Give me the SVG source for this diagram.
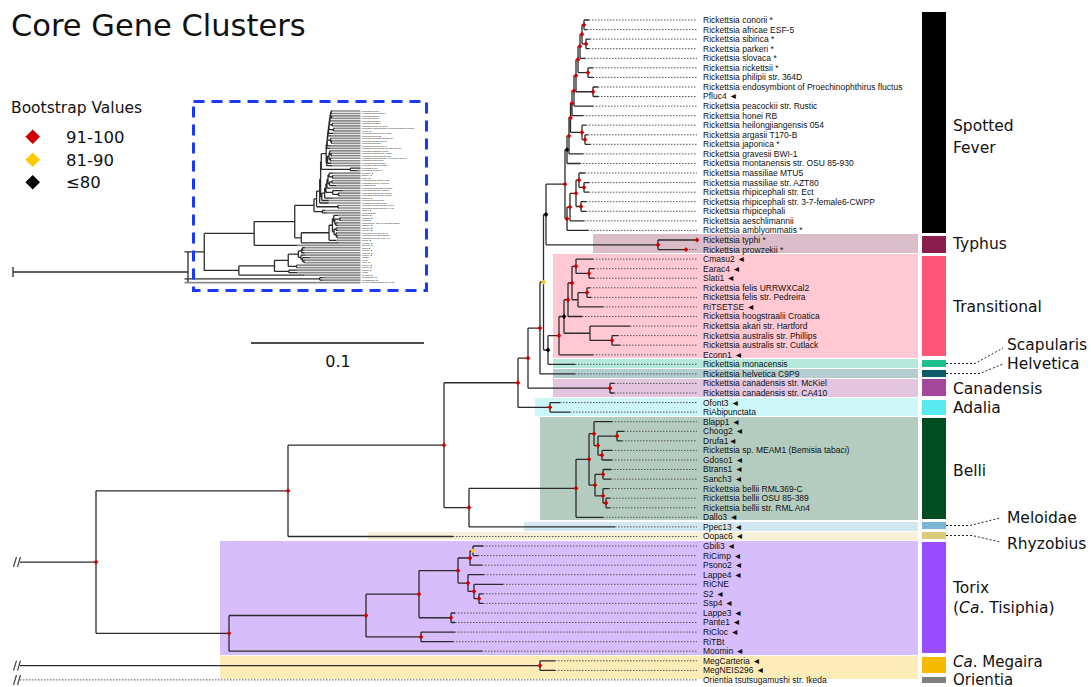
<svg xmlns="http://www.w3.org/2000/svg" xmlns:xlink="http://www.w3.org/1999/xlink" width="1091" height="687" viewBox="0 0 1091 687">
<style>
.br{fill:none;stroke:#2b2b2b;stroke-width:1.3;stroke-dasharray:none;vector-effect:non-scaling-stroke}
.ld{fill:none;vector-effect:non-scaling-stroke}
.lf{font-family:"Liberation Sans",Arial,sans-serif;font-size:8.5px;fill:#111;stroke:none}
.cl{font-family:"DejaVu Sans",Verdana,sans-serif;font-size:15.5px;fill:#111}
.cn{fill:none;stroke:#222;stroke-width:1;stroke-dasharray:2 2}
.brk{fill:none;stroke:#444;stroke-width:1.2}
</style>
<defs>
<path id="dr" d="M0,-2.4L2.4,0L0,2.4L-2.4,0Z" fill="#d10000"/>
<path id="dy" d="M0,-2.4L2.4,0L0,2.4L-2.4,0Z" fill="#ffc800"/>
<path id="dk" d="M0,-2.4L2.4,0L0,2.4L-2.4,0Z" fill="#000"/>
</defs>
<rect width="1091" height="687" fill="#fff"/>

<g id="title">
<text x="11" y="36" font-family="'DejaVu Sans',Verdana,sans-serif" font-size="30.5" fill="#111">Core Gene Clusters</text>
</g>

<g id="legend">
<text x="11" y="113" font-family="'DejaVu Sans',Verdana,sans-serif" font-size="15.5" fill="#111">Bootstrap Values</text>
<path d="M32.7,129.5L40,136.8L32.7,144.1L25.4,136.8Z" fill="#d10000"/>
<path d="M32.7,152.5L40,159.8L32.7,167.1L25.4,159.8Z" fill="#ffc800"/>
<path d="M32.7,175L40,182.3L32.7,189.6L25.4,182.3Z" fill="#000"/>
<text x="66" y="143.3" font-family="'DejaVu Sans',Verdana,sans-serif" font-size="16.5" fill="#111">91-100</text>
<text x="66" y="166" font-family="'DejaVu Sans',Verdana,sans-serif" font-size="16.5" fill="#111">81-90</text>
<text x="66" y="188.3" font-family="'DejaVu Sans',Verdana,sans-serif" font-size="16.5" fill="#111">≤80</text>
</g>

<g id="bands">
<rect x="593" y="234" width="325" height="19" fill="#dbbdca"/>
<rect x="553" y="254" width="365" height="104" fill="#ffc8d3"/>
<rect x="553" y="359" width="365" height="9" fill="#b3e8da"/>
<rect x="553" y="369" width="365" height="9" fill="#b3ccd0"/>
<rect x="553" y="379" width="365" height="18" fill="#e3c5e0"/>
<rect x="535" y="398" width="383" height="18" fill="#ccf6f7"/>
<rect x="540" y="417" width="378" height="103" fill="#b4ccbf"/>
<rect x="524" y="522" width="394" height="9" fill="#d2e7ef"/>
<rect x="368" y="532" width="550" height="8" fill="#f7efd7"/>
<rect x="220" y="541" width="698" height="114" fill="#d7bdfb"/>
<rect x="220" y="656" width="698" height="23" fill="#fdebb8"/>
</g>

<g id="treewrap" style="stroke:#555;stroke-width:1;stroke-dasharray:1.5 1.5">
<g id="tree">
<path class="ld" d="M589,20H697M587,29.6H697M590,39.1H697M589,48.7H697M585,58.3H697M593,67.8H697M593,77.4H697M598,87H697M598,96.5H697M593,106.1H697M583,115.7H697M586,125.2H697M588,134.8H697M590,144.3H697M583,153.9H697M580,163.5H697M585,173H697M589,182.6H697M589,192.2H697M586,201.7H697M586,211.3H697M584,220.9H697M588,230.4H697M686,249.6H697M593,259.1H697M594,268.7H697M594,278.2H697M590,287.8H697M591,297.4H697M603,306.9H697M582,316.5H697M630,326.1H697M618,335.6H697M620,345.2H697M593,354.8H697M575,364.3H697M575,373.9H697M614,383.4H697M614,393H697M560,402.6H697M570,412.1H697M612,421.7H697M624,431.3H697M622,440.8H697M612,450.4H697M612,460H697M611,469.5H697M611,479.1H697M609,488.6H697M610,498.2H697M610,507.8H697M603,517.3H697M615,526.9H697M453,536.5H697M483,546H697M478,555.6H697M482,565.2H697M484,574.7H697M503,584.3H697M483,593.8H697M483,603.4H697M455,613H697M455,622.5H697M455,632.1H697M453,641.7H697M482,651.2H697M555,660.8H697M555,670.4H697M20,679.9H697"/>
<path class="br" d="M584,20H589M584,29.6H587M586,39.1H590M586,48.7H589M582,24.8H584M582,43.9H586M580,34.35H582M580,58.3H585M588,67.8H593M588,77.4H593M578,46.3H580M578,72.6H588M593,87H598M593,96.5H598M576,59.45H578M576,91.75H593M574,75.6H576M574,106.1H593M572,90.85H574M572,115.7H583M585,134.8H588M585,144.3H590M582,125.2H586M582,139.55H585M570.5,103.3H572M570.5,132.4H582M569,117.85H570.5M569,153.9H583M567,135.9H569M567,163.5H580M584,182.6H589M584,192.2H589M579,173H585M579,187.4H584M581,201.7H586M581,211.3H586M576,180.2H579M576,206.5H581M570,193.35H576M570,220.9H584M567,207.1H570M567,230.4H588M565,149.7H567M565,218.75H567
M584,20V29.6M586,39.1V48.7M582,24.8V43.9M580,34.35V58.3M588,67.8V77.4M578,46.3V72.6M593,87V96.5M576,59.45V91.75M574,75.6V106.1M572,90.85V115.7M585,134.8V144.3M582,125.2V139.55M570.5,103.3V132.4M569,117.85V153.9M567,135.9V163.5M584,182.6V192.2M579,173V187.4M581,201.7V211.3M576,180.2V206.5M570,193.35V220.9M567,207.1V230.4M565,149.7V218.75
M658,240H697M658,249.6H686M658,240V249.6M546,184.2H565M546,244.8H658M546,184.2V244.8
M589,268.7H594M589,278.2H594M589,268.7V278.2M576,259.1H593M576,273.45H589M576,259.1V273.45M587,287.8H590M587,297.4H591M587,287.8V297.4M578,292.6H587M578,306.9H603M578,292.6V306.9M572,266.3H576M572,299.75H578M572,266.3V299.75M568,283H572M568,316.5H582M568,283V316.5M612,335.6H618M612,345.2H620M612,335.6V345.2M590,326.1H630M590,340.4H612M590,326.1V340.4M564,299.75H568M564,333.25H590M564,299.75V333.25M559,316.5H564M559,354.8H593M559,316.5V354.8
M548,335.65H559M548,364.3H575M548,335.65V364.3M543.5,214.5H546M543.5,350H548M543.5,214.5V350M540,282.25H543.5M540,373.9H575M540,282.25V373.9M610,383.4H614M610,393H614M610,383.4V393M528,328.1H540M528,388.2H610M528,328.1V388.2M550,402.6H560M550,412.1H570M550,402.6V412.1M518,358.15H528M518,407.35H550M518,358.15V407.35M444,382.75H518M444,507.6H469M444,382.75V507.6
M617,431.3H624M617,440.8H622M617,431.3V440.8M602,450.4H612M602,460H612M602,450.4V460M598,436.05H617M598,455.2H602M598,436.05V455.2M594,421.7H612M594,445.6H598M594,421.7V445.6M603,469.5H611M603,479.1H611M603,469.5V479.1M606,498.2H610M606,507.8H610M606,498.2V507.8M603,488.6H609M603,503H606M603,488.6V503M595,474.3H603M595,495.8H603M595,474.3V495.8M589,433.65H594M589,485.05H595M589,433.65V485.05M576,459.35H589M576,517.3H603M576,459.35V517.3M469,488.3H576M469,526.9H615M469,488.3V526.9M288,445.2H444M288,536.5H453M288,445.2V536.5
M473,546H483M473,555.6H478M473,546V555.6M470,550.8H473M470,565.2H482M470,550.8V565.2M479,593.8H483M479,603.4H483M479,593.8V603.4M474,584.3H503M474,598.6H479M474,584.3V598.6M468,574.7H484M468,591.45H474M468,574.7V591.45M458,558H470M458,583.1H468M458,558V583.1M451,613H455M451,622.5H455M451,613V622.5M419,570.55H458M419,617.75H451M419,570.55V617.75M421,632.1H455M421,641.7H453M421,632.1V641.7M366,594.15H419M366,636.9H421M366,594.15V636.9M229,615.5H366M229,651.2H482M229,615.5V651.2M96,490.85H288M96,633.35H229M96,490.85V633.35M20,562.1H96
M540,660.8H555M540,670.4H555M540,660.8V670.4M20,665.6H540"/>
<g class="lf">
<text x="703" y="22.9">Rickettsia conorii *</text>
<text x="703" y="32.5">Rickettsia africae ESF-5</text>
<text x="703" y="42">Rickettsia sibirica *</text>
<text x="703" y="51.6">Rickettsia parkeri *</text>
<text x="703" y="61.2">Rickettsia slovaca *</text>
<text x="703" y="70.7">Rickettsia rickettsii *</text>
<text x="703" y="80.3">Rickettsia philipii str. 364D</text>
<text x="703" y="89.9">Rickettsia endosymbiont of Proechinophthirus fluctus</text>
<text x="703" y="99.4">Pfluc4 ◄</text>
<text x="703" y="109">Rickettsia peacockii str. Rustic</text>
<text x="703" y="118.6">Rickettsia honei RB</text>
<text x="703" y="128.1">Rickettsia heilongjiangensis 054</text>
<text x="703" y="137.7">Rickettsia argasii T170-B</text>
<text x="703" y="147.2">Rickettsia japonica *</text>
<text x="703" y="156.8">Rickettsia gravesii BWI-1</text>
<text x="703" y="166.4">Rickettsia montanensis str. OSU 85-930</text>
<text x="703" y="175.9">Rickettsia massiliae MTU5</text>
<text x="703" y="185.5">Rickettsia massiliae str. AZT80</text>
<text x="703" y="195.1">Rickettsia rhipicephali str. Ect</text>
<text x="703" y="204.6">Rickettsia rhipicephali str. 3-7-female6-CWPP</text>
<text x="703" y="214.2">Rickettsia rhipicephali</text>
<text x="703" y="223.8">Rickettsia aeschlimannii</text>
<text x="703" y="233.3">Rickettsia amblyommatis *</text>
<text x="703" y="242.9">Rickettsia typhi *</text>
<text x="703" y="252.5">Rickettsia prowzekii *</text>
<text x="703" y="262">Cmasu2 ◄</text>
<text x="703" y="271.6">Earac4 ◄</text>
<text x="703" y="281.1">Slati1 ◄</text>
<text x="703" y="290.7">Rickettsia felis URRWXCal2</text>
<text x="703" y="300.3">Rickettsia felis str. Pedreira</text>
<text x="703" y="309.8">RiTSETSE ◄</text>
<text x="703" y="319.4">Rickettsia hoogstraalii Croatica</text>
<text x="703" y="329">Rickettsia akari str. Hartford</text>
<text x="703" y="338.5">Rickettsia australis str. Phillips</text>
<text x="703" y="348.1">Rickettsia australis str. Cutlack</text>
<text x="703" y="357.7">Econn1 ◄</text>
<text x="703" y="367.2">Rickettsia monacensis</text>
<text x="703" y="376.8">Rickettsia helvetica C9P9</text>
<text x="703" y="386.3">Rickettsia canadensis str. McKiel</text>
<text x="703" y="395.9">Rickettsia canadensis str. CA410</text>
<text x="703" y="405.5">Ofont3 ◄</text>
<text x="703" y="415">RiAbipunctata</text>
<text x="703" y="424.6">Blapp1 ◄</text>
<text x="703" y="434.2">Choog2 ◄</text>
<text x="703" y="443.7">Drufa1◄</text>
<text x="703" y="453.3">Rickettsia sp. MEAM1 (Bemisia tabaci)</text>
<text x="703" y="462.9">Gdoso1 ◄</text>
<text x="703" y="472.4">Btrans1 ◄</text>
<text x="703" y="482">Sanch3 ◄</text>
<text x="703" y="491.5">Rickettsia bellii RML369-C</text>
<text x="703" y="501.1">Rickettsia bellii OSU 85-389</text>
<text x="703" y="510.7">Rickettsia bellii str. RML An4</text>
<text x="703" y="520.2">Dallo3 ◄</text>
<text x="703" y="529.8">Ppec13 ◄</text>
<text x="703" y="539.4">Oopac6 ◄</text>
<text x="703" y="548.9">Gbili3 ◄</text>
<text x="703" y="558.5">RiCimp ◄</text>
<text x="703" y="568.1">Psono2 ◄</text>
<text x="703" y="577.6">Lappe4 ◄</text>
<text x="703" y="587.2">RiCNE</text>
<text x="703" y="596.7">S2 ◄</text>
<text x="703" y="606.3">Ssp4 ◄</text>
<text x="703" y="615.9">Lappe3 ◄</text>
<text x="703" y="625.4">Pante1 ◄</text>
<text x="703" y="635">RiCloc ◄</text>
<text x="703" y="644.6">RiTBt</text>
<text x="703" y="654.1">Moomin ◄</text>
<text x="703" y="663.7">MegCarteria ◄</text>
<text x="703" y="673.3">MegNEIS296 ◄</text>
<text x="703" y="682.8">Orientia tsutsugamushi str. Ikeda</text>
</g>
</g>
</g>

<g id="breaks">
<path class="brk" d="M16.5,557L13.5,567M20.5,557L17.5,567M16.5,660.6L13.5,670.6M20.5,660.6L17.5,670.6M16.5,675L13.5,685M20.5,675L17.5,685"/>
</g>

<g id="nodes">
<use href="#dr" x="584" y="24.8"/><use href="#dr" x="586" y="43.9"/><use href="#dr" x="582" y="34.35"/><use href="#dr" x="580" y="46.3"/><use href="#dr" x="588" y="72.6"/><use href="#dr" x="578" y="59.45"/><use href="#dr" x="593" y="91.75"/><use href="#dr" x="576" y="75.6"/><use href="#dr" x="574" y="90.85"/><use href="#dr" x="572" y="103.3"/><use href="#dr" x="585" y="139.55"/><use href="#dr" x="582" y="132.4"/><use href="#dr" x="570.5" y="117.85"/><use href="#dr" x="569" y="135.9"/><use href="#dk" x="567" y="149.7"/><use href="#dr" x="584" y="187.4"/><use href="#dr" x="579" y="180.2"/><use href="#dr" x="581" y="206.5"/><use href="#dr" x="576" y="193.35"/><use href="#dr" x="570" y="207.1"/><use href="#dr" x="567" y="218.75"/><use href="#dr" x="565" y="184.2"/>
<use href="#dr" x="658" y="244.8"/><use href="#dr" x="697" y="240"/><use href="#dr" x="686" y="249.6"/><use href="#dk" x="546" y="214.5"/><use href="#dy" x="543.5" y="282.25"/><use href="#dk" x="548" y="350"/><use href="#dr" x="540" y="328.1"/><use href="#dr" x="528" y="358.15"/><use href="#dr" x="518" y="382.75"/><use href="#dr" x="610" y="388.2"/><use href="#dr" x="550" y="407.35"/>
<use href="#dr" x="589" y="273.45"/><use href="#dr" x="576" y="266.3"/><use href="#dr" x="587" y="292.6"/><use href="#dr" x="572" y="283"/><use href="#dr" x="568" y="299.75"/><use href="#dr" x="612" y="340.4"/><use href="#dk" x="564" y="316.5"/><use href="#dr" x="559" y="335.65"/>
<use href="#dr" x="617" y="436.05"/><use href="#dr" x="602" y="455.2"/><use href="#dr" x="598" y="445.6"/><use href="#dr" x="594" y="433.65"/><use href="#dr" x="603" y="474.3"/><use href="#dr" x="606" y="503"/><use href="#dr" x="603" y="495.8"/><use href="#dr" x="595" y="485.05"/><use href="#dr" x="589" y="459.35"/><use href="#dr" x="576" y="488.3"/>
<use href="#dr" x="469" y="507.6"/><use href="#dr" x="444" y="445.2"/><use href="#dr" x="288" y="490.85"/><use href="#dr" x="96" y="562.1"/>
<use href="#dy" x="473" y="550.8"/><use href="#dr" x="470" y="558"/><use href="#dr" x="479" y="598.6"/><use href="#dr" x="474" y="591.45"/><use href="#dr" x="468" y="583.1"/><use href="#dr" x="458" y="570.55"/><use href="#dr" x="451" y="617.75"/><use href="#dr" x="419" y="594.15"/><use href="#dr" x="421" y="636.9"/><use href="#dr" x="366" y="615.5"/><use href="#dr" x="229" y="633.35"/><use href="#dr" x="540" y="665.6"/>
</g>

<g id="inset">
<use href="#tree" transform="matrix(0.26 0 0 0.26 179.3 105.8)" style="stroke:#8a8a8a;stroke-width:1.7;stroke-dasharray:none"/>
<path class="br" d="M13,267V277M13,272H188M188,252V282"/>
<rect x="193.5" y="101.5" width="233" height="189" fill="none" stroke="#1a3af5" stroke-width="3" stroke-dasharray="11 7"/>
</g>

<g id="scalebar">
<path d="M251,343H424" stroke="#111" stroke-width="1.3"/>
<text x="338" y="367" text-anchor="middle" font-family="'DejaVu Sans',Verdana,sans-serif" font-size="16" fill="#111">0.1</text>
</g>

<g id="clade-bars">
<rect x="922" y="12" width="24" height="221" fill="#000"/>
<rect x="922" y="236" width="24" height="17" fill="#8b1c4e"/>
<rect x="922" y="256" width="24" height="100" fill="#ff5577"/>
<rect x="922" y="360" width="24" height="7" fill="#1fbf8f"/>
<rect x="922" y="370" width="24" height="7" fill="#0d5b66"/>
<rect x="922" y="379" width="24" height="17" fill="#a3469c"/>
<rect x="922" y="400" width="24" height="15" fill="#57eaf1"/>
<rect x="922" y="418" width="24" height="101" fill="#004d21"/>
<rect x="922" y="522" width="24" height="7" fill="#78b6d3"/>
<rect x="922" y="532" width="24" height="7" fill="#dccc7a"/>
<rect x="922" y="542" width="24" height="111" fill="#9a4dff"/>
<rect x="922" y="657" width="24" height="16" fill="#f6bb00"/>
<rect x="922" y="677" width="24" height="6" fill="#7f7f7f"/>
</g>

<g id="clade-connectors">
<path class="cn" d="M946,363.5H975L1003,348M946,373.5H980L1003,364M946,525.5H970L1000,518M946,535.5H972L1000,542"/>
</g>

<g id="clade-labels" class="cl">
<text x="953" y="131">Spotted</text>
<text x="953" y="153">Fever</text>
<text x="953" y="249">Typhus</text>
<text x="953" y="312">Transitional</text>
<text x="1007" y="350">Scapularis</text>
<text x="1007" y="369">Helvetica</text>
<text x="953" y="394">Canadensis</text>
<text x="953" y="413">Adalia</text>
<text x="953" y="476">Belli</text>
<text x="1007" y="523">Meloidae</text>
<text x="1007" y="549">Rhyzobius</text>
<text x="953" y="593">Torix</text>
<text x="953" y="613">(<tspan font-style="italic">Ca</tspan>. Tisiphia)</text>
<text x="953" y="667" font-size="15"><tspan font-style="italic">Ca</tspan>. Megaira</text>
<text x="953" y="685" font-size="15">Orientia</text>
</g>
</svg>
